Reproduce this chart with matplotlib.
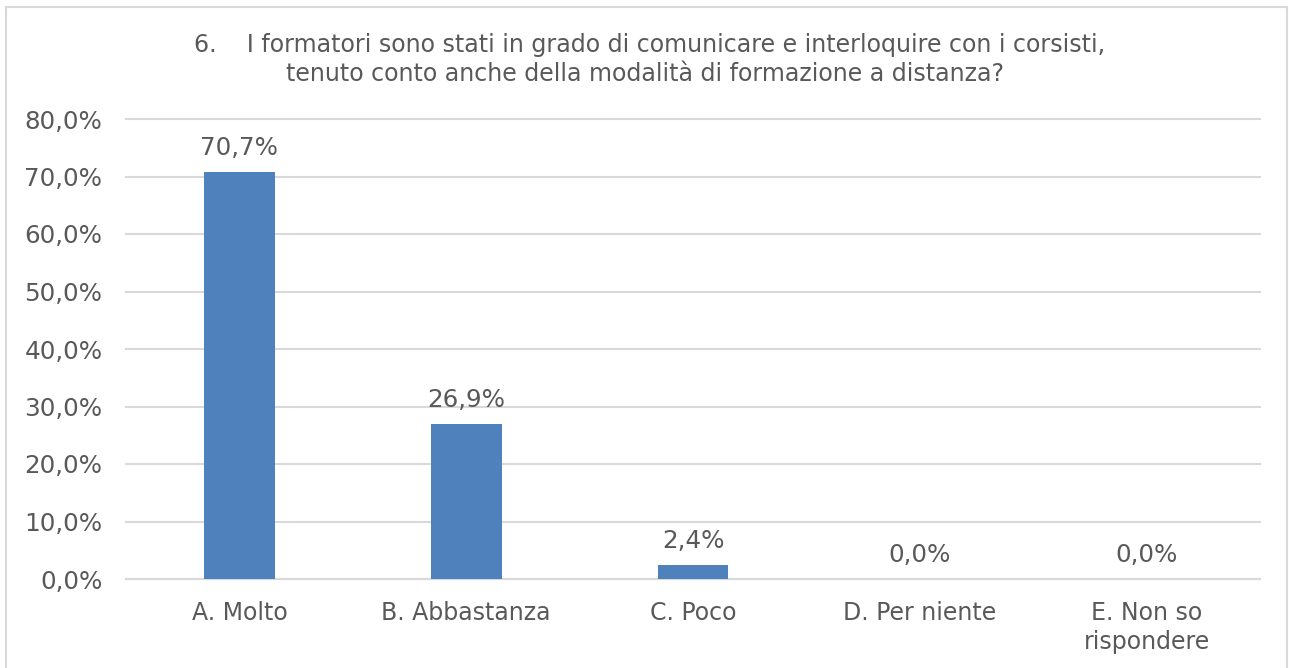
import matplotlib.pyplot as plt
from matplotlib.patches import Rectangle
from matplotlib.ticker import FuncFormatter

categories = ["A. Molto", "B. Abbastanza", "C. Poco", "D. Per niente", "E. Non so\nrispondere"]
values = [70.7, 26.9, 2.4, 0.0, 0.0]
title_lines = [
    "6.    I formatori sono stati in grado di comunicare e interloquire con i corsisti,",
    "tenuto conto anche della modalità di formazione a distanza?",
]

TEXT = "#595959"
GRID = "#D9D9D9"
BAR = "#4F81BD"

plt.rcParams["font.family"] = ["DejaVu Sans"]

W, H = 1289, 668
fig = plt.figure(figsize=(W / 100, H / 100), dpi=100)
fig.patch.set_facecolor("white")

# outer chart frame
fig.add_artist(Rectangle((6 / W, -0.01), (1287 - 6) / W, (H - 7) / H + 0.01,
                         transform=fig.transFigure, fill=False,
                         edgecolor=GRID, linewidth=1.5))

ax = fig.add_axes([126 / W, (H - 579) / H, (1260 - 126) / W, (579 - 119) / H])
x = list(range(len(categories)))
ax.bar(x, values, width=0.313, color=BAR, zorder=3)
ax.set_xlim(-0.5, len(categories) - 0.5)
ax.set_ylim(0, 80)
ax.set_yticks(range(0, 81, 10))
ax.yaxis.set_major_formatter(FuncFormatter(lambda v, p: f"{v:.1f}%".replace(".", ",")))
ax.grid(axis="y", color=GRID, linewidth=1.5, zorder=0)
for gl in ax.get_ygridlines():
    gl.set_clip_on(False)
for s in ax.spines.values():
    s.set_visible(False)
ax.tick_params(axis="both", length=0, labelcolor=TEXT)
ax.tick_params(axis="y", pad=17, labelsize=17.7)
ax.tick_params(axis="x", pad=16, labelsize=17)
ax.set_xticks(x)
ax.set_xticklabels(categories, linespacing=1.25)
ax.axhline(0, color=GRID, linewidth=1.5, zorder=2, clip_on=False)

for xi, v in zip(x, values):
    ax.annotate(f"{v:.1f}%".replace(".", ","), (xi, v), xytext=(0, 12.5),
                textcoords="offset points", ha="center", va="baseline",
                fontsize=17.7, color=TEXT)

fig.text(650 / W, 1 - 52 / H, title_lines[0], ha="center", va="baseline",
         fontsize=17.1, color=TEXT)
fig.text(645 / W, 1 - 81 / H, title_lines[1], ha="center", va="baseline",
         fontsize=17.1, color=TEXT)

fig.savefig("out.png", dpi=100)
